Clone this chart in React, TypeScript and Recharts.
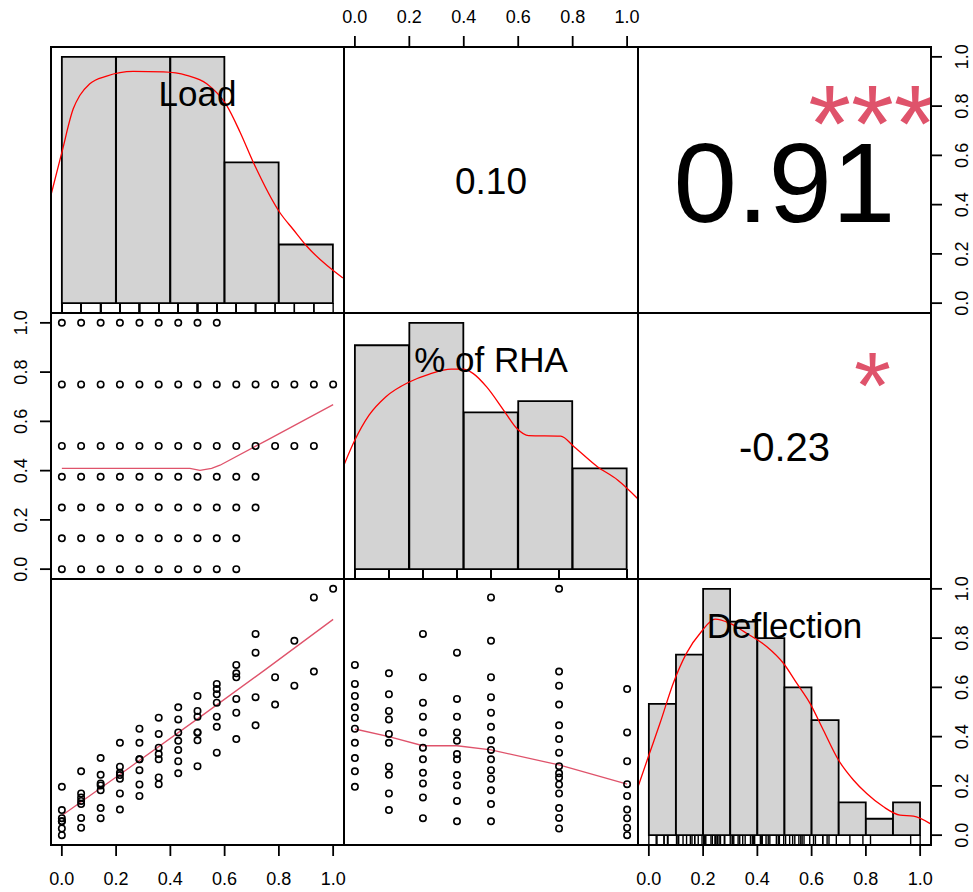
import React from 'react';
import { ComposedChart, Scatter, Line, Bar, XAxis, YAxis } from 'recharts';

const FONT = '"Liberation Sans", Arial, Helvetica, sans-serif';

// ---------- data ----------
const variableNames = ['Load', '% of RHA', 'Deflection'];
const correlationTexts = ['0.10', '0.91', '-0.23']; // (Load,RHA) (Load,Defl) (RHA,Defl)
const correlationFontSizes = [37, 114, 40];
const significanceStars = ['', '***', '*'];
const starFontSizes = [0, 110, 95];

const axisTicks = [0, 0.2, 0.4, 0.6, 0.8, 1.0];

const loadLevels = [0, 0.071, 0.143, 0.214, 0.286, 0.357, 0.429, 0.5, 0.571, 0.643, 0.714, 0.786, 0.857, 0.929, 1.0];
const rhaLevels = [0, 0.125, 0.25, 0.375, 0.5, 0.75, 1.0];

// deflection for each RHA level, listed by ascending load level
const deflAtRha0 = [0.196, 0.259, 0.313, 0.375, 0.432, 0.477, 0.519, 0.565, 0.614, 0.691];
const deflAtRha0125 = [0.102, 0.169, 0.245, 0.278, 0.375, 0.411, 0.470, 0.504, 0.572, 0.657];
const deflAtRha025 = [0.069, 0.153, 0.210, 0.253, 0.308, 0.355, 0.417, 0.481, 0.538, 0.641, 0.817];
const deflAtRha0375 = [0.056, 0.139, 0.202, 0.244, 0.308, 0.329, 0.383, 0.417, 0.481, 0.553, 0.741];
const deflAtRha05 = [0.056, 0.126, 0.182, 0.229, 0.264, 0.308, 0.346, 0.385, 0.440, 0.497, 0.560, 0.641, 0.789, 0.965];
const deflAtRha075 = [0.027, 0.070, 0.110, 0.169, 0.206, 0.234, 0.251, 0.280, 0.335, 0.390, 0.446, 0.530, 0.607, 0.664, 1.0];
const deflAtRha1 = [0, 0.030, 0.069, 0.104, 0.159, 0.207, 0.300, 0.417, 0.593];
const deflByRha = [deflAtRha0, deflAtRha0125, deflAtRha025, deflAtRha0375, deflAtRha05, deflAtRha075, deflAtRha1];

// histograms
const loadBreaks = [0, 0.2, 0.4, 0.6, 0.8, 1.0];
const loadCounts = [21, 21, 21, 12, 5];
const rhaBreaks = [0, 0.2, 0.4, 0.6, 0.8, 1.0];
const rhaCounts = [20, 22, 14, 15, 9];
const deflBreaks = [0, 0.1, 0.2, 0.3, 0.4, 0.5, 0.6, 0.7, 0.8, 0.9, 1.0];
const deflCounts = [8, 11, 15, 13, 12, 9, 7, 2, 1, 2];

// density curves (height as fraction of the tallest bar)
const loadDensX = [-0.041, 0, 0.042, 0.066, 0.103, 0.165, 0.263, 0.374, 0.460, 0.534, 0.608, 0.657, 0.706, 0.804, 0.853, 0.903, 1.036];
const loadDensY = [0.435, 0.612, 0.789, 0.843, 0.891, 0.922, 0.941, 0.939, 0.925, 0.891, 0.802, 0.694, 0.571, 0.367, 0.299, 0.231, 0.102];
const rhaDensX = [-0.04, 0, 0.052, 0.114, 0.2, 0.274, 0.354, 0.398, 0.435, 0.484, 0.546, 0.595, 0.638, 0.756, 0.805, 0.891, 0.965, 1.04];
const rhaDensY = [0.423, 0.524, 0.625, 0.700, 0.760, 0.792, 0.812, 0.812, 0.794, 0.740, 0.646, 0.571, 0.542, 0.540, 0.497, 0.416, 0.362, 0.285];
const deflDensX = [-0.04, -0.002, 0.041, 0.090, 0.139, 0.194, 0.244, 0.299, 0.360, 0.434, 0.496, 0.545, 0.594, 0.643, 0.699, 0.754, 0.803, 0.865, 0.926, 0.975, 1.037];
const deflDensY = [0.196, 0.318, 0.454, 0.617, 0.739, 0.827, 0.877, 0.860, 0.820, 0.766, 0.698, 0.617, 0.535, 0.427, 0.305, 0.224, 0.169, 0.115, 0.081, 0.077, 0.047];

// smoothing lines of scatter panels
const loadRhaSmoothX = [0, 0.472, 0.509, 0.552, 0.583, 0.755, 1.0];
const loadRhaSmoothY = [0.409, 0.409, 0.401, 0.409, 0.422, 0.523, 0.668];
const loadDeflSmoothX = [0, 0.25, 0.5, 0.75, 1.0];
const loadDeflSmoothY = [0.08, 0.275, 0.472, 0.672, 0.876];
const rhaDeflSmoothX = [0, 0.125, 0.25, 0.375, 0.5, 0.75, 1.0];
const rhaDeflSmoothY = [0.431, 0.400, 0.363, 0.363, 0.346, 0.285, 0.207];

// ---------- derived tables ----------
type Rec = { load: number; rha: number; defl: number };
const records: Rec[] = [];
rhaLevels.forEach((r, i) => deflByRha[i].forEach((d, k) => records.push({ load: loadLevels[k], rha: r, defl: d })));

const zip = (xs: number[], ys: number[]) => xs.map((x, i) => ({ x, y: ys[i] }));
const histTable = (breaks: number[], counts: number[]) => {
  const m = Math.max(...counts);
  return counts.map((c, i) => ({ mid: (breaks[i] + breaks[i + 1]) / 2, h: c / m }));
};

const DOMAIN: [number, number] = [-0.04, 1.04];
const rugTable = (vals: number[]) => vals.map((v) => ({ x: v, y: DOMAIN[0] }));

const loadHist = histTable(loadBreaks, loadCounts);
const rhaHist = histTable(rhaBreaks, rhaCounts);
const deflHist = histTable(deflBreaks, deflCounts);

const loadRhaPts = records.map((d) => ({ x: d.load, y: d.rha }));
const loadDeflPts = records.map((d) => ({ x: d.load, y: d.defl }));
const rhaDeflPts = records.map((d) => ({ x: d.rha, y: d.defl }));

// ---------- layout ----------
const COLS = [51, 344, 638, 931];
const ROWS = [47, 313, 579, 845];
const BAND = { left: 51, right: 42, top: 47, bottom: 47 };
const PAD = 24;
const RED = '#FF0000';
const SMOOTH = '#DF536B';

const fmt = (v: number) => Number(v).toFixed(1);

function RotatedTick(props: any) {
  const { x, y, payload } = props;
  return (
    <text x={x} y={y} transform={`rotate(-90 ${x} ${y})`} textAnchor="middle" fontSize={18} fontFamily={FONT} fill="#000">
      {fmt(payload.value)}
    </text>
  );
}

const Ring = (p: any) => <circle cx={p.cx} cy={p.cy} r={3.2} fill="none" stroke="#000" strokeWidth={1.6} />;
const RugTick = (p: any) => <line x1={p.cx} x2={p.cx} y1={p.cy} y2={p.cy - 10} stroke="#000" strokeWidth={1.4} />;

function xAxisEl(side: 'top' | 'bottom' | null) {
  return (
    <XAxis
      key="xmain"
      xAxisId="main"
      type="number"
      dataKey="x"
      domain={DOMAIN}
      allowDataOverflow
      ticks={axisTicks}
      interval={0}
      hide={!side}
      orientation={side || 'bottom'}
      height={side ? BAND[side] : 0}
      tickSize={11}
      tickMargin={side === 'top' ? 13 : 16}
      axisLine={false}
      stroke="#000"
      tickLine={{ stroke: '#000', strokeWidth: 1.8 }}
      tick={{ fontSize: 18, fill: '#000', fontFamily: FONT }}
      tickFormatter={fmt}
    />
  );
}

function barAxisEl() {
  return (
    <XAxis key="xbar" xAxisId="bar" type="number" dataKey="mid" domain={DOMAIN} allowDataOverflow hide height={0} orientation="top" />
  );
}

function yAxisEl(side: 'left' | 'right' | null) {
  return (
    <YAxis
      key="ymain"
      yAxisId="main"
      type="number"
      dataKey="y"
      domain={DOMAIN}
      allowDataOverflow
      ticks={axisTicks}
      interval={0}
      hide={!side}
      orientation={side || 'left'}
      width={side ? BAND[side] : 0}
      tickSize={11}
      tickMargin={side === 'left' ? 13 : 26}
      axisLine={false}
      stroke="#000"
      tickLine={{ stroke: '#000', strokeWidth: 1.8 }}
      tick={<RotatedTick />}
    />
  );
}

function PanelChart(props: { r: number; c: number; sides: string[]; data?: any[]; children?: React.ReactNode }) {
  const { r, c, sides, data, children } = props;
  const w = COLS[c + 1] - COLS[c];
  const h = ROWS[r + 1] - ROWS[r];
  const l = sides.includes('left') ? BAND.left : 0;
  const rt = sides.includes('right') ? BAND.right : 0;
  const t = sides.includes('top') ? BAND.top : 0;
  const b = sides.includes('bottom') ? BAND.bottom : 0;
  return (
    <div style={{ position: 'absolute', left: COLS[c] - l - PAD, top: ROWS[r] - t - PAD }}>
      <ComposedChart
        width={w + l + rt + 2 * PAD}
        height={h + t + b + 2 * PAD}
        margin={{ top: PAD, right: PAD, bottom: PAD, left: PAD }}
        data={data}
        barCategoryGap={0}
        barGap={0}
      >
        {children}
      </ComposedChart>
    </div>
  );
}

function histParts(dens: any[], rug: any[]) {
  return [
    <Bar key="bar" xAxisId="bar" yAxisId="main" dataKey="h" fill="#D3D3D3" stroke="#000" strokeWidth={1.8} isAnimationActive={false} />,
    <Line key="dens" xAxisId="main" yAxisId="main" data={dens} dataKey="y" type="monotone" stroke={RED} strokeWidth={1.3} dot={false} activeDot={false} isAnimationActive={false} />,
    <Scatter key="rug" xAxisId="main" yAxisId="main" data={rug} shape={RugTick} isAnimationActive={false} />,
  ];
}

function scatterParts(pts: any[], smooth: any[]) {
  return [
    <Scatter key="pts" xAxisId="main" yAxisId="main" data={pts} shape={Ring} isAnimationActive={false} />,
    <Line key="smooth" xAxisId="main" yAxisId="main" data={smooth} dataKey="y" type="linear" stroke={SMOOTH} strokeWidth={1.3} dot={false} activeDot={false} isAnimationActive={false} />,
  ];
}

export default function App() {
  const pw = (c: number) => COLS[c + 1] - COLS[c];
  const ph = (r: number) => ROWS[r + 1] - ROWS[r];
  const cx = (c: number) => COLS[c] + pw(c) / 2;
  const cy = (r: number) => ROWS[r] + ph(r) / 2;
  // upper-triangle cells: (row, col) for each correlation
  const corrCells = [
    [0, 1],
    [0, 2],
    [1, 2],
  ];

  return (
    <div style={{ position: 'absolute', left: 0, top: 0, width: 973, height: 892, background: '#fff', overflow: 'hidden' }}>
      {/* diagonal: histograms */}
      <PanelChart r={0} c={0} sides={[]} data={loadHist}>
        {xAxisEl(null)}
        {barAxisEl()}
        {yAxisEl(null)}
        {histParts(zip(loadDensX, loadDensY), rugTable(records.map((d) => d.load)))}
      </PanelChart>
      <PanelChart r={1} c={1} sides={[]} data={rhaHist}>
        {xAxisEl(null)}
        {barAxisEl()}
        {yAxisEl(null)}
        {histParts(zip(rhaDensX, rhaDensY), rugTable(records.map((d) => d.rha)))}
      </PanelChart>
      <PanelChart r={2} c={2} sides={['bottom', 'right']} data={deflHist}>
        {xAxisEl('bottom')}
        {barAxisEl()}
        {yAxisEl('right')}
        {histParts(zip(deflDensX, deflDensY), rugTable(records.map((d) => d.defl)))}
      </PanelChart>

      {/* lower triangle: scatter plots */}
      <PanelChart r={1} c={0} sides={['left']}>
        {xAxisEl(null)}
        {yAxisEl('left')}
        {scatterParts(loadRhaPts, zip(loadRhaSmoothX, loadRhaSmoothY))}
      </PanelChart>
      <PanelChart r={2} c={0} sides={['bottom']}>
        {xAxisEl('bottom')}
        {yAxisEl(null)}
        {scatterParts(loadDeflPts, zip(loadDeflSmoothX, loadDeflSmoothY))}
      </PanelChart>
      <PanelChart r={2} c={1} sides={[]}>
        {xAxisEl(null)}
        {yAxisEl(null)}
        {scatterParts(rhaDeflPts, zip(rhaDeflSmoothX, rhaDeflSmoothY))}
      </PanelChart>

      {/* upper triangle: axes only */}
      <PanelChart r={0} c={1} sides={['top']}>
        {xAxisEl('top')}
        {yAxisEl(null)}
      </PanelChart>
      <PanelChart r={0} c={2} sides={['right']}>
        {xAxisEl(null)}
        {yAxisEl('right')}
      </PanelChart>

      {/* overlay: borders and texts */}
      <svg width={973} height={892} style={{ position: 'absolute', left: 0, top: 0, pointerEvents: 'none' }}>
        <defs>
          {corrCells.map(([r, c], i) => (
            <clipPath id={`clip${i}`} key={i}>
              <rect x={COLS[c]} y={ROWS[r]} width={pw(c)} height={ph(r)} />
            </clipPath>
          ))}
        </defs>
        {variableNames.map((name, i) => (
          <text key={name} x={cx(i)} y={ROWS[i] + 59} textAnchor="middle" fontSize={35} fontFamily={FONT} fill="#000">
            {name}
          </text>
        ))}
        {corrCells.map(([r, c], i) => (
          <g key={'c' + i}>
            <text
              x={cx(c)}
              y={cy(r) + 0.37 * correlationFontSizes[i]}
              textAnchor="middle"
              fontSize={correlationFontSizes[i]}
              fontFamily={FONT}
              fill="#000"
            >
              {correlationTexts[i]}
            </text>
            {significanceStars[i] && (
              <text
                x={COLS[c] + 0.8 * pw(c)}
                y={ROWS[r + 1] - 0.8 * ph(r) + 0.55 * starFontSizes[i]}
                textAnchor="middle"
                fontSize={starFontSizes[i]}
                fontFamily={FONT}
                fill="#DF536B"
                clipPath={`url(#clip${i})`}
              >
                {significanceStars[i]}
              </text>
            )}
          </g>
        ))}
        {[0, 1, 2].map((r) =>
          [0, 1, 2].map((c) => (
            <rect key={`b${r}${c}`} x={COLS[c]} y={ROWS[r]} width={pw(c)} height={ph(r)} fill="none" stroke="#000" strokeWidth={2} />
          ))
        )}
      </svg>
    </div>
  );
}
